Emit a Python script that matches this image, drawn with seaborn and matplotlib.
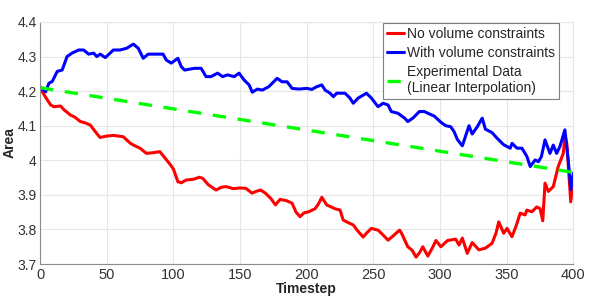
import numpy as np
import pandas as pd
import matplotlib
matplotlib.use("Agg")
import matplotlib.pyplot as plt
import seaborn as sns

# values
red_t = [0, 3, 5.4, 8, 10.4, 15.4, 18, 22.8, 26, 30.3, 34, 37.7, 41, 45, 50, 55, 62.5, 67.5,
         70, 75, 79.8, 85, 89.8, 93, 97.2, 100, 103.4, 106, 109.6, 115, 119.5, 122, 126, 132,
         136, 139.4, 145, 150, 154.3, 159, 162, 165.4, 169, 173, 176.6, 180, 185, 189, 192,
         195, 198, 201.4, 206.3, 209, 211.3, 215, 221.2, 225, 227.4, 231, 234.9, 238, 242.3,
         245, 248.5, 253.5, 257, 261, 265, 269.6, 271, 275.8, 279, 282, 285, 287, 290.8, 294,
         296.9, 300.6, 305.6, 311.7, 314.2, 316.7, 320.4, 324.1, 329.1, 334, 339, 342, 344,
         347.7, 350.2, 353.9, 357, 360.1, 363.8, 365.1, 368.8, 372.5, 375, 377, 378.7, 381.2,
         384.9, 388.6, 392.4, 393.6, 395, 398, 400]
red_v = [4.21, 4.19, 4.175, 4.16, 4.155, 4.157, 4.146, 4.131, 4.125, 4.112, 4.108, 4.102, 4.085,
         4.066, 4.07, 4.072, 4.068, 4.05, 4.044, 4.035, 4.02, 4.022, 4.025, 4.01, 3.99, 3.975,
         3.938, 3.935, 3.943, 3.945, 3.951, 3.948, 3.93, 3.914, 3.922, 3.924, 3.918, 3.92,
         3.919, 3.905, 3.91, 3.914, 3.905, 3.89, 3.871, 3.887, 3.883, 3.876, 3.85, 3.837, 3.848,
         3.851, 3.86, 3.875, 3.893, 3.871, 3.86, 3.856, 3.827, 3.82, 3.813, 3.797, 3.778, 3.79,
         3.803, 3.798, 3.785, 3.769, 3.782, 3.798, 3.79, 3.75, 3.74, 3.72, 3.735, 3.75, 3.723,
         3.745, 3.768, 3.75, 3.768, 3.772, 3.755, 3.775, 3.731, 3.762, 3.741, 3.746, 3.76, 3.79,
         3.822, 3.789, 3.803, 3.779, 3.81, 3.847, 3.842, 3.856, 3.851, 3.865, 3.86, 3.825, 3.934,
         3.91, 3.924, 3.982, 4.02, 4.07, 4.05, 3.88, 3.95]

blue_t = [0, 2, 4.2, 6.7, 9.2, 12.9, 16.6, 20.3, 24, 29, 32.7, 36.5, 40.2, 42.6, 45.2, 48.9, 52.6,
          55, 60, 65, 70, 73.7, 77.4, 81.1, 84.8, 92.3, 94.7, 98.4, 103.4, 105.9, 108.4, 115.8,
          120.8, 124.5, 128.2, 133.2, 136.9, 140.6, 145.6, 149.3, 153.1, 156.8, 159.2, 163,
          166.7, 171.6, 177.8, 181.5, 185.3, 189, 194, 200, 203.9, 207.6, 211.3, 213.8, 217.5,
          220, 222.5, 228.7, 232.4, 234.9, 238.6, 244.8, 248.5, 253.5, 257.3, 261, 263.4, 268.4,
          273.4, 275.8, 279.6, 284.5, 288.2, 292, 295.6, 300.6, 304.3, 308, 310.5, 313, 316.7,
          321.7, 324.1, 327.9, 331.6, 334, 339, 342.7, 347.7, 352.6, 354, 357.7, 361.4, 365.1,
          367.6, 371.3, 373.8, 376, 378.7, 382.4, 384.9, 387.4, 389.9, 393.6, 396.1, 398.1, 400]
blue_v = [4.213, 4.205, 4.198, 4.223, 4.228, 4.257, 4.261, 4.3, 4.31, 4.319, 4.319, 4.307, 4.31,
          4.3, 4.307, 4.297, 4.31, 4.319, 4.319, 4.324, 4.336, 4.324, 4.295, 4.307, 4.307, 4.307,
          4.29, 4.281, 4.295, 4.271, 4.261, 4.266, 4.266, 4.242, 4.242, 4.252, 4.242, 4.247,
          4.242, 4.252, 4.232, 4.218, 4.197, 4.206, 4.203, 4.213, 4.237, 4.227, 4.227, 4.208,
          4.206, 4.208, 4.205, 4.213, 4.218, 4.203, 4.194, 4.184, 4.194, 4.194, 4.18, 4.165,
          4.18, 4.194, 4.18, 4.155, 4.165, 4.16, 4.141, 4.136, 4.122, 4.112, 4.122, 4.141, 4.141,
          4.134, 4.128, 4.11, 4.1, 4.097, 4.083, 4.06, 4.042, 4.1, 4.076, 4.097, 4.122, 4.09,
          4.08, 4.064, 4.045, 4.035, 4.049, 4.035, 4.035, 4.011, 3.982, 4.001, 3.996, 4.011,
          4.059, 4.02, 4.044, 4.02, 4.04, 4.088, 4.001, 3.915, 3.963]

exp_t = [0, 400]
exp_v = [4.21, 3.965]

labels = ["No volume constraints", "With volume constraints",
          "Experimental Data\n(Linear Interpolation)"]
x_ticks = [0, 50, 100, 150, 200, 250, 300, 350, 400]
y_ticks = [3.7, 3.8, 3.9, 4.0, 4.1, 4.2, 4.3, 4.4]
y_ticklabels = ["3.7", "3.8", "3.9", "4", "4.1", "4.2", "4.3", "4.4"]

sns.set_style("white")
plt.rcParams['font.family'] = ['Liberation Sans', 'DejaVu Sans']

fig = plt.figure(figsize=(5.98, 2.97), dpi=100)
ax = fig.add_axes([0.0669, 0.111, 0.892, 0.815])

sns.lineplot(x=red_t, y=red_v, ax=ax, color=(1, 0, 0), lw=2.2, label=labels[0])
sns.lineplot(x=blue_t, y=blue_v, ax=ax, color=(0, 0, 1), lw=2.2, label=labels[1])
sns.lineplot(x=exp_t, y=exp_v, ax=ax, color=(0, 1, 0), lw=2.4, label=labels[2],
             dashes=False, linestyle=(0, (4, 3.5)))

ax.set_xlim(0, 400)
ax.set_ylim(3.7, 4.4)
ax.set_xticks(x_ticks)
ax.set_yticks(y_ticks)
ax.set_yticklabels(y_ticklabels)
ax.grid(True, color="#e6e6e6", lw=0.8)
ax.set_axisbelow(True)
ax.tick_params(axis="both", direction="in", length=3, labelsize=10.5, colors="#333333",
               pad=3)
ax.tick_params(axis="y", labelsize=10, pad=2.5)
for s in ["left", "bottom"]:
    ax.spines[s].set_color("#8c8c8c")
    ax.spines[s].set_linewidth(0.8)
for s in ["top", "right"]:
    ax.spines[s].set_color("#e6e6e6")
    ax.spines[s].set_linewidth(0.8)

ax.set_xlabel("Timestep", fontsize=10, fontweight="bold", labelpad=0)
ax.set_ylabel("Area", fontsize=10, fontweight="bold")
ax.yaxis.set_label_coords(-0.0431, 0.5)

leg = ax.legend(loc="upper right", bbox_to_anchor=(0.973, 0.995), fontsize=10,
                frameon=True, fancybox=False, handlelength=1.2, handletextpad=0.2,
                borderpad=0.3, labelspacing=0.35, borderaxespad=0)
leg.get_frame().set_edgecolor("#7f7f7f")
leg.get_frame().set_linewidth(0.8)
leg.get_frame().set_alpha(1)

plt.savefig("out.png", dpi=100)
